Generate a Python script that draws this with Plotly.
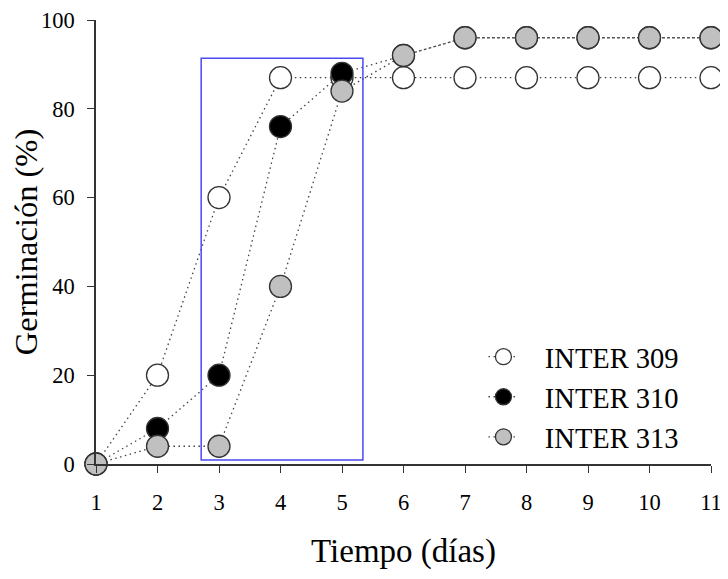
import plotly.graph_objects as go

days = [1, 2, 3, 4, 5, 6, 7, 8, 9, 10, 11]
inter309 = [0, 20, 60, 87, 87, 87, 87, 87, 87, 87, 87]
inter310 = [0, 8, 20, 76, 88, 92, 96, 96, 96, 96, 96]
inter313 = [0, 4, 4, 40, 84, 92, 96, 96, 96, 96, 96]
names = ["INTER 309", "INTER 310", "INTER 313"]
fills = ["white", "black", "#c0c0c0"]
box_x = [2.71, 5.34]
box_y = [0.9, 91.4]

pad = "\u00a0\u00a0\u00a0"
fig = go.Figure()
for name, vals, fc in zip(names, [inter309, inter310, inter313], fills):
    fig.add_trace(go.Scatter(
        x=days, y=vals, name=pad + name, mode="lines+markers", legendgroup=name,
        line=dict(color="#444444", width=1.3, dash="1.5px,3.5px"),
        marker=dict(size=22, color=fc, line=dict(color="#333333", width=1.3)),
        cliponaxis=False,
    ))

fig.add_shape(type="rect", x0=box_x[0], x1=box_x[1], y0=box_y[0], y1=box_y[1],
              xref="x", yref="y", line=dict(color="#4a4af0", width=1.5),
              fillcolor="rgba(0,0,0,0)")

font = "Liberation Serif, Times New Roman, serif"
fig.update_layout(
    width=720, height=571,
    margin=dict(l=88, r=17, t=12, b=115),
    plot_bgcolor="white", paper_bgcolor="white",
    font=dict(family=font, color="black", size=22),
    showlegend=True,
    legend=dict(x=0.63, y=0.298, xanchor="left", yanchor="top",
                font=dict(family=font, size=28.5), bgcolor="rgba(0,0,0,0)",
                tracegroupgap=0, itemsizing="trace"),
    xaxis=dict(range=[1, 11], tickvals=days, showline=True, linecolor="#333333",
               linewidth=1.5, ticks="outside", ticklen=7, tickcolor="#333333",
               showgrid=False, zeroline=False, tickfont=dict(size=22.5),
               automargin=False, ticklabelstandoff=10, ticklabeloverflow="allow",
               title=dict(text="Tiempo (días)", font=dict(size=33), standoff=25)),
    yaxis=dict(range=[0, 100], tickvals=[0, 20, 40, 60, 80, 100], showline=True,
               linecolor="#333333", linewidth=1.5, ticks="outside", ticklen=7,
               tickcolor="#333333", showgrid=False, zeroline=False,
               tickfont=dict(size=22.5), automargin=False, ticklabelstandoff=8,
               ticklabeloverflow="allow",
               title=dict(text="Germinación (%)", font=dict(size=32.5), standoff=2)),
)
fig.write_html("out.html")
